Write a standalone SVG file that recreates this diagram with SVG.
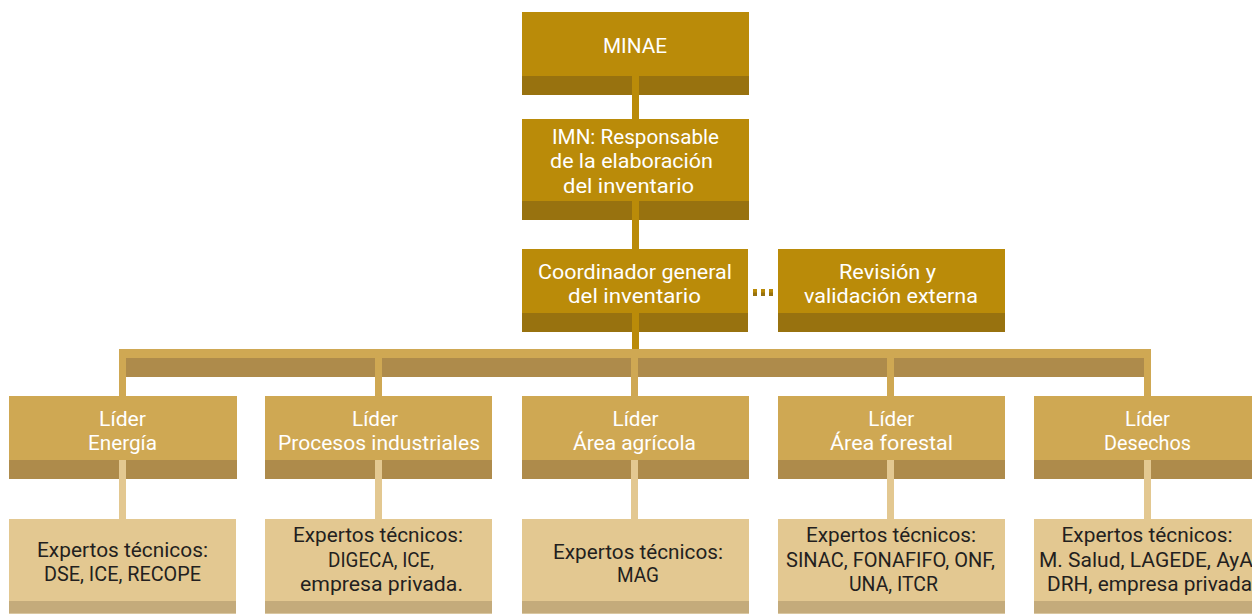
<svg xmlns="http://www.w3.org/2000/svg" width="1252" height="614" viewBox="0 0 1252 614">
<style>
text{font-family:Roboto,"Noto Sans","Liberation Sans",sans-serif;font-size:21px;text-anchor:middle}
.w{fill:#ffffff}
.d{fill:#231f20}
.top{fill:#ba8b09}
.topb{fill:#98720f}
.lead{fill:#cfa853}
.leadb{fill:#ae8b4b}
.exp{fill:#e3c891}
.expb{fill:#c4ab7b}
</style>
<rect width="1252" height="614" fill="#ffffff"/>
<g id="minae">
<rect class="top" x="522" y="12" width="227" height="83"/>
<rect class="topb" x="522" y="76" width="227" height="19"/>
<text class="w" x="635" y="53" textLength="64" lengthAdjust="spacingAndGlyphs">MINAE</text>
</g>
<g id="imn">
<rect class="top" x="522" y="119" width="227" height="101"/>
<rect class="topb" x="522" y="201" width="227" height="19"/>
<text class="w" x="635.5" y="144" textLength="167" lengthAdjust="spacingAndGlyphs">IMN: Responsable</text>
<text class="w" x="631.5" y="168" textLength="163" lengthAdjust="spacingAndGlyphs">de la elaboración</text>
<text class="w" x="628.5" y="192.5" textLength="131" lengthAdjust="spacingAndGlyphs">del inventario</text>
</g>
<g id="coordinador">
<rect class="top" x="522" y="249" width="226" height="83"/>
<rect class="topb" x="522" y="313" width="226" height="19"/>
<text class="w" x="635" y="279" textLength="194" lengthAdjust="spacingAndGlyphs">Coordinador general</text>
<text class="w" x="634.5" y="303" textLength="133" lengthAdjust="spacingAndGlyphs">del inventario</text>
</g>
<g id="revision">
<rect class="top" x="778" y="249" width="227" height="83"/>
<rect class="topb" x="778" y="313" width="227" height="19"/>
<text class="w" x="887.5" y="279" textLength="97" lengthAdjust="spacingAndGlyphs">Revisión y</text>
<text class="w" x="891" y="303" textLength="174" lengthAdjust="spacingAndGlyphs">validación externa</text>
</g>
<g id="lider-energia">
<rect class="lead" x="9" y="396" width="228" height="83"/>
<rect class="leadb" x="9" y="460" width="228" height="19"/>
<text class="w" x="122.5" y="425.5" textLength="47" lengthAdjust="spacingAndGlyphs">Líder</text>
<text class="w" x="122.5" y="449.5" textLength="69" lengthAdjust="spacingAndGlyphs">Energía</text>
</g>
<g id="lider-procesos">
<rect class="lead" x="265" y="396" width="227" height="83"/>
<rect class="leadb" x="265" y="460" width="227" height="19"/>
<text class="w" x="375" y="425.5" textLength="46" lengthAdjust="spacingAndGlyphs">Líder</text>
<text class="w" x="379" y="449.5" textLength="202" lengthAdjust="spacingAndGlyphs">Procesos industriales</text>
</g>
<g id="lider-agricola">
<rect class="lead" x="522" y="396" width="227" height="83"/>
<rect class="leadb" x="522" y="460" width="227" height="19"/>
<text class="w" x="635.5" y="425.5" textLength="46" lengthAdjust="spacingAndGlyphs">Líder</text>
<text class="w" x="634.5" y="449.5" textLength="123" lengthAdjust="spacingAndGlyphs">Área agrícola</text>
</g>
<g id="lider-forestal">
<rect class="lead" x="778" y="396" width="227" height="83"/>
<rect class="leadb" x="778" y="460" width="227" height="19"/>
<text class="w" x="891.3" y="425.5" textLength="46" lengthAdjust="spacingAndGlyphs">Líder</text>
<text class="w" x="891.5" y="449.5" textLength="123" lengthAdjust="spacingAndGlyphs">Área forestal</text>
</g>
<g id="lider-desechos">
<rect class="lead" x="1034" y="396" width="227" height="83"/>
<rect class="leadb" x="1034" y="460" width="227" height="19"/>
<text class="w" x="1147.5" y="425.5" textLength="45" lengthAdjust="spacingAndGlyphs">Líder</text>
<text class="w" x="1147.5" y="449.5" textLength="87" lengthAdjust="spacingAndGlyphs">Desechos</text>
</g>
<g id="expertos-energia">
<rect class="exp" x="9" y="519" width="227" height="94.5"/>
<rect class="expb" x="9" y="601" width="227" height="12.5"/>
<text class="d" x="122.5" y="556.5" textLength="171" lengthAdjust="spacingAndGlyphs">Expertos técnicos:</text>
<text class="d" x="122.5" y="580.5" textLength="157" lengthAdjust="spacingAndGlyphs">DSE, ICE, RECOPE</text>
</g>
<g id="expertos-procesos">
<rect class="exp" x="265" y="519" width="227" height="94.5"/>
<rect class="expb" x="265" y="601" width="227" height="12.5"/>
<text class="d" x="378" y="542.3" textLength="170" lengthAdjust="spacingAndGlyphs">Expertos técnicos:</text>
<text class="d" x="381" y="566.5" textLength="106" lengthAdjust="spacingAndGlyphs">DIGECA, ICE,</text>
<text class="d" x="381.5" y="590.7" textLength="163" lengthAdjust="spacingAndGlyphs">empresa privada.</text>
</g>
<g id="expertos-agricola">
<rect class="exp" x="522" y="519" width="227" height="94.5"/>
<rect class="expb" x="522" y="601" width="227" height="12.5"/>
<text class="d" x="638" y="559" textLength="170" lengthAdjust="spacingAndGlyphs">Expertos técnicos:</text>
<text class="d" x="638" y="582.3" textLength="42" lengthAdjust="spacingAndGlyphs">MAG</text>
</g>
<g id="expertos-forestal">
<rect class="exp" x="778" y="519" width="227" height="94.5"/>
<rect class="expb" x="778" y="601" width="227" height="12.5"/>
<text class="d" x="891" y="542.3" textLength="170" lengthAdjust="spacingAndGlyphs">Expertos técnicos:</text>
<text class="d" x="890.5" y="566.5" textLength="209" lengthAdjust="spacingAndGlyphs">SINAC, FONAFIFO, ONF,</text>
<text class="d" x="893.5" y="590.7" textLength="89" lengthAdjust="spacingAndGlyphs">UNA, ITCR</text>
</g>
<g id="expertos-desechos">
<rect class="exp" x="1034" y="519" width="227" height="94.5"/>
<rect class="expb" x="1034" y="601" width="227" height="12.5"/>
<text class="d" x="1147" y="542.3" textLength="171" lengthAdjust="spacingAndGlyphs">Expertos técnicos:</text>
<text class="d" x="1039" y="566.5" style="text-anchor:start" textLength="214" lengthAdjust="spacingAndGlyphs">M. Salud, LAGEDE, AyA</text>
<text class="d" x="1047" y="590.7" style="text-anchor:start" textLength="205" lengthAdjust="spacingAndGlyphs">DRH, empresa privada</text>
</g>
<g id="connectors">
<rect class="top" x="632" y="76" width="7" height="43"/>
<rect class="top" x="632" y="201" width="7" height="48"/>
<rect class="top" x="632" y="313" width="7" height="36"/>
<rect class="top" x="753" y="289" width="4" height="7"/>
<rect class="top" x="761" y="289" width="4" height="7"/>
<rect class="top" x="769" y="289" width="4" height="7"/>
<rect class="topb" x="753" y="292.5" width="4" height="3.5"/>
<rect class="topb" x="761" y="292.5" width="4" height="3.5"/>
<rect class="topb" x="769" y="292.5" width="4" height="3.5"/>
<rect class="lead" x="119" y="349" width="1032" height="9"/>
<rect class="leadb" x="126" y="358" width="1018" height="19"/>
<rect class="lead" x="119" y="349" width="7" height="47"/>
<rect class="lead" x="375" y="358" width="7" height="38"/>
<rect class="lead" x="631" y="358" width="7" height="38"/>
<rect class="lead" x="887" y="358" width="7" height="38"/>
<rect class="lead" x="1144" y="349" width="7" height="47"/>
<rect class="exp" x="119" y="460" width="7" height="59"/>
<rect class="exp" x="375" y="460" width="7" height="59"/>
<rect class="exp" x="631" y="460" width="7" height="59"/>
<rect class="exp" x="887" y="460" width="7" height="59"/>
<rect class="exp" x="1144" y="460" width="7" height="59"/>
</g>
</svg>
